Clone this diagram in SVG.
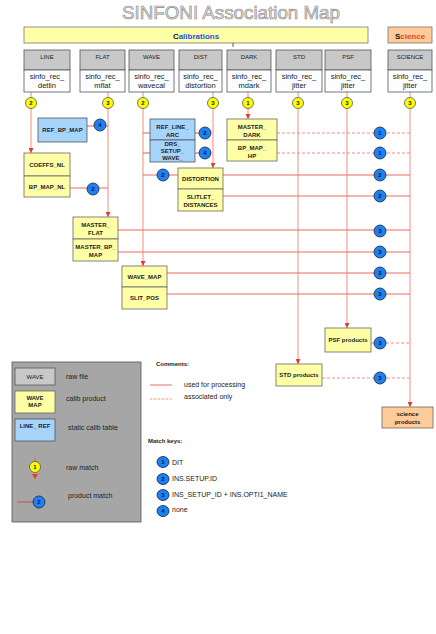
<svg xmlns="http://www.w3.org/2000/svg" width="436" height="634" viewBox="0 0 436 634">
<defs>
<style>
text{font-family:"Liberation Sans",Arial,sans-serif;}
.raw-h{fill:#c8c8c8;stroke:#555;stroke-width:0.8}
.raw-b{fill:#fbfdff;stroke:#555;stroke-width:0.8}
.prod{fill:#ffffa6;stroke:#666;stroke-width:0.8}
.stat{fill:#a6d4fa;stroke:#555;stroke-width:0.8}
.sci{fill:#ffcc99;stroke:#666;stroke-width:0.8}
.hl{font-size:6px;fill:#222;text-anchor:middle}
.rl{font-size:7.5px;fill:#222;text-anchor:middle}
.pl{font-size:6px;font-weight:bold;fill:#222;text-anchor:middle}
.lg{font-size:7px;fill:#222}
.vl{stroke:#f4a096;stroke-width:1.2;fill:none}
.hs{stroke:#ec6a5c;stroke-width:1.1;fill:none}
.hd{stroke:#f09088;stroke-width:1.1;fill:none;stroke-dasharray:3 2}
.yc{fill:#ffff00;stroke:#555;stroke-width:0.8}
.bc{fill:#1a82f4;stroke:#223;stroke-width:0.8}
.ct{font-size:6px;fill:#112;text-anchor:middle;font-weight:bold}
</style>
<marker id="ar" viewBox="0 0 10 10" refX="10" refY="5" markerWidth="5" markerHeight="5" markerUnits="userSpaceOnUse" orient="auto">
<path d="M0,0 L10,5 L0,10 z" fill="#e83a20"/>
</marker>
</defs>
<rect width="436" height="634" fill="#ffffff"/>

<text x="231" y="19" font-size="18" text-anchor="middle" fill="#e0e0e0" stroke="#8a8a8a" stroke-width="0.6" textLength="218" lengthAdjust="spacingAndGlyphs">SINFONI Association Map</text>

<g id="calibrations">
<rect x="24" y="27" width="344" height="16" fill="#ffffa6" stroke="#777" stroke-width="0.8"/>
<text x="196" y="38.5" font-size="8" font-weight="bold" text-anchor="middle"><tspan fill="#111">C</tspan><tspan fill="#1a4ff0">alibrations</tspan></text>
<line x1="233" y1="43" x2="233" y2="47" stroke="#333" stroke-width="0.8"/>
</g>
<g id="science">
<rect x="388" y="27" width="44" height="16" fill="#ffcc99" stroke="#777" stroke-width="0.8"/>
<text x="410" y="38.5" font-size="8" font-weight="bold" text-anchor="middle"><tspan fill="#111">S</tspan><tspan fill="#e8401a">cience</tspan></text>
</g>

<g id="connectors">
<line class="vl" x1="31" y1="92" x2="31" y2="153" marker-end="url(#ar)"/>
<line class="vl" x1="108" y1="92" x2="108" y2="217" marker-end="url(#ar)"/>
<line class="vl" x1="143" y1="92" x2="143" y2="266" marker-end="url(#ar)"/>
<line class="vl" x1="213" y1="92" x2="213" y2="168" marker-end="url(#ar)"/>
<line class="vl" x1="248" y1="92" x2="248" y2="119" marker-end="url(#ar)"/>
<line class="vl" x1="298" y1="92" x2="298" y2="364" marker-end="url(#ar)"/>
<line class="vl" x1="347" y1="92" x2="347" y2="328" marker-end="url(#ar)"/>
<line class="vl" x1="410" y1="92" x2="410" y2="407" marker-end="url(#ar)"/>
<line class="hs" x1="87" y1="126" x2="108" y2="126"/>
<line class="hs" x1="70" y1="188" x2="108" y2="188"/>
<line class="hs" x1="143" y1="133" x2="150" y2="133"/>
<line class="hs" x1="143" y1="153" x2="150" y2="153"/>
<line class="hs" x1="195" y1="133" x2="205" y2="133"/>
<line class="hs" x1="195" y1="153" x2="205" y2="153"/>
<line class="hs" x1="143" y1="175" x2="178" y2="175"/>
<line class="hs" x1="223" y1="175" x2="410" y2="175"/>
<line class="hs" x1="223" y1="196" x2="410" y2="196"/>
<line class="hd" x1="277" y1="133" x2="410" y2="133"/>
<line class="hd" x1="277" y1="153" x2="410" y2="153"/>
<line class="hs" x1="118" y1="230" x2="410" y2="230"/>
<line class="hs" x1="118" y1="252" x2="410" y2="252"/>
<line class="hs" x1="167" y1="273" x2="410" y2="273"/>
<line class="hs" x1="167" y1="294" x2="410" y2="294"/>
<line class="hd" x1="371" y1="343" x2="410" y2="343"/>
<line class="hd" x1="322" y1="378" x2="410" y2="378"/>
</g>

<g id="raw-line"><rect class="raw-h" x="24" y="50" width="46" height="20"/><rect class="raw-b" x="24" y="70" width="46" height="22"/><text class="hl" x="47" y="59">LINE</text><text class="rl" x="47" y="79">sinfo_rec_</text><text class="rl" x="47" y="88">detlin</text></g>
<g id="raw-flat"><rect class="raw-h" x="80" y="50" width="45" height="20"/><rect class="raw-b" x="80" y="70" width="45" height="22"/><text class="hl" x="102.5" y="59">FLAT</text><text class="rl" x="102.5" y="79">sinfo_rec_</text><text class="rl" x="102.5" y="88">mflat</text></g>
<g id="raw-wave"><rect class="raw-h" x="129" y="50" width="45" height="20"/><rect class="raw-b" x="129" y="70" width="45" height="22"/><text class="hl" x="151.5" y="59">WAVE</text><text class="rl" x="151.5" y="79">sinfo_rec_</text><text class="rl" x="151.5" y="88">wavecal</text></g>
<g id="raw-dist"><rect class="raw-h" x="179" y="50" width="43" height="20"/><rect class="raw-b" x="179" y="70" width="43" height="22"/><text class="hl" x="200.5" y="59">DIST</text><text class="rl" x="200.5" y="79">sinfo_rec_</text><text class="rl" x="200.5" y="88">distortion</text></g>
<g id="raw-dark"><rect class="raw-h" x="227" y="50" width="44" height="20"/><rect class="raw-b" x="227" y="70" width="44" height="22"/><text class="hl" x="249" y="59">DARK</text><text class="rl" x="249" y="79">sinfo_rec_</text><text class="rl" x="249" y="88">mdark</text></g>
<g id="raw-std"><rect class="raw-h" x="276" y="50" width="46" height="20"/><rect class="raw-b" x="276" y="70" width="46" height="22"/><text class="hl" x="299" y="59">STD</text><text class="rl" x="299" y="79">sinfo_rec_</text><text class="rl" x="299" y="88">jitter</text></g>
<g id="raw-psf"><rect class="raw-h" x="325" y="50" width="46" height="20"/><rect class="raw-b" x="325" y="70" width="46" height="22"/><text class="hl" x="348" y="59">PSF</text><text class="rl" x="348" y="79">sinfo_rec_</text><text class="rl" x="348" y="88">jitter</text></g>
<g id="raw-science"><rect class="raw-h" x="388" y="50" width="44" height="20"/><rect class="raw-b" x="388" y="70" width="44" height="22"/><text class="hl" x="410" y="59">SCIENCE</text><text class="rl" x="410" y="79">sinfo_rec_</text><text class="rl" x="410" y="88">jitter</text></g>

<g id="raw-matches">
<circle class="yc" cx="31" cy="103" r="5.5"/><text class="ct" x="31" y="105.2">2</text>
<circle class="yc" cx="108" cy="103" r="5.5"/><text class="ct" x="108" y="105.2">3</text>
<circle class="yc" cx="143" cy="103" r="5.5"/><text class="ct" x="143" y="105.2">2</text>
<circle class="yc" cx="213" cy="103" r="5.5"/><text class="ct" x="213" y="105.2">3</text>
<circle class="yc" cx="248" cy="103" r="5.5"/><text class="ct" x="248" y="105.2">1</text>
<circle class="yc" cx="298" cy="103" r="5.5"/><text class="ct" x="298" y="105.2">3</text>
<circle class="yc" cx="347" cy="103" r="5.5"/><text class="ct" x="347" y="105.2">3</text>
<circle class="yc" cx="410" cy="103" r="5.5"/><text class="ct" x="410" y="105.2">3</text>
</g>

<g id="ref-bp-map"><rect class="stat" x="38" y="118" width="49" height="24"/><text class="pl" x="62.5" y="132">REF_BP_MAP</text></g>
<g id="ref-line-arc"><rect class="stat" x="150" y="119" width="45" height="21"/><text class="pl" x="172.5" y="129">REF_LINE_</text><text class="pl" x="172.5" y="137">ARC</text></g>
<g id="drs-setup-wave"><rect class="stat" x="150" y="140" width="45" height="22"/><text class="pl" x="172.5" y="145.5">DRS_</text><text class="pl" x="172.5" y="152.5">SETUP_</text><text class="pl" x="172.5" y="159.5">WAVE_</text></g>
<g id="coeffs-nl"><rect class="prod" x="24" y="153" width="46" height="23"/><rect class="prod" x="24" y="176" width="46" height="21"/><text class="pl" x="47" y="167">COEFFS_NL</text><text class="pl" x="47" y="188.5">BP_MAP_NL</text></g>
<g id="master-dark"><rect class="prod" x="227" y="119" width="50" height="21"/><rect class="prod" x="227" y="140" width="50" height="21"/><text class="pl" x="252" y="128.5">MASTER_</text><text class="pl" x="252" y="136.5">DARK</text><text class="pl" x="252" y="149.5">BP_MAP_</text><text class="pl" x="252" y="157.5">HP</text></g>
<g id="distortion"><rect class="prod" x="178" y="168" width="45" height="21"/><rect class="prod" x="178" y="189" width="45" height="22"/><text class="pl" x="200.5" y="181">DISTORTION</text><text class="pl" x="200.5" y="199">SLITLET_</text><text class="pl" x="200.5" y="207">DISTANCES</text></g>
<g id="master-flat"><rect class="prod" x="73" y="217" width="45" height="22"/><rect class="prod" x="73" y="239" width="45" height="22"/><text class="pl" x="95.5" y="227">MASTER_</text><text class="pl" x="95.5" y="235">FLAT</text><text class="pl" x="95.5" y="249">MASTER_BP_</text><text class="pl" x="95.5" y="257">MAP</text></g>
<g id="wave-map"><rect class="prod" x="122" y="266" width="45" height="21"/><rect class="prod" x="122" y="287" width="45" height="22"/><text class="pl" x="144.5" y="279">WAVE_MAP</text><text class="pl" x="144.5" y="300">SLIT_POS</text></g>
<g id="psf-products"><rect class="prod" x="325" y="328" width="46" height="24"/><text class="pl" x="348" y="342">PSF products</text></g>
<g id="std-products"><rect class="prod" x="276" y="364" width="46" height="22"/><text class="pl" x="299" y="377">STD products</text></g>
<g id="science-products"><rect class="sci" x="382" y="407" width="51" height="21"/><text class="pl" x="407.5" y="415.5">science</text><text class="pl" x="407.5" y="423.5">products</text></g>

<g id="product-matches">
<circle class="bc" cx="100" cy="125" r="6"/><text class="ct" x="100" y="127.2">4</text>
<circle class="bc" cx="93" cy="189" r="6"/><text class="ct" x="93" y="191.2">2</text>
<circle class="bc" cx="205" cy="133" r="6"/><text class="ct" x="205" y="135.2">2</text>
<circle class="bc" cx="205" cy="153" r="6"/><text class="ct" x="205" y="155.2">4</text>
<circle class="bc" cx="163" cy="175" r="6"/><text class="ct" x="163" y="177.2">2</text>
<circle class="bc" cx="380" cy="133" r="6"/><text class="ct" x="380" y="135.2">1</text>
<circle class="bc" cx="380" cy="153" r="6"/><text class="ct" x="380" y="155.2">1</text>
<circle class="bc" cx="380" cy="175" r="6"/><text class="ct" x="380" y="177.2">2</text>
<circle class="bc" cx="380" cy="196" r="6"/><text class="ct" x="380" y="198.2">2</text>
<circle class="bc" cx="380" cy="231" r="6"/><text class="ct" x="380" y="233.2">3</text>
<circle class="bc" cx="380" cy="252" r="6"/><text class="ct" x="380" y="254.2">3</text>
<circle class="bc" cx="380" cy="273" r="6"/><text class="ct" x="380" y="275.2">3</text>
<circle class="bc" cx="380" cy="294" r="6"/><text class="ct" x="380" y="296.2">3</text>
<circle class="bc" cx="380" cy="343" r="6"/><text class="ct" x="380" y="345.2">3</text>
<circle class="bc" cx="380" cy="378" r="6"/><text class="ct" x="380" y="380.2">3</text>
</g>

<g id="legend">
<rect x="12" y="362" width="129" height="160" fill="#a6a6a6" stroke="#555" stroke-width="0.8"/>
<rect class="raw-h" x="15" y="368" width="40" height="17" fill="#d4d4d4"/><text class="hl" x="35" y="378.5" font-size="6.5">WAVE</text>
<text class="lg" x="66" y="379">raw file</text>
<rect class="prod" x="15" y="391" width="40" height="22"/><text class="pl" x="35" y="399.5">WAVE</text><text class="pl" x="35" y="406.5">MAP</text>
<text class="lg" x="66" y="401">calib product</text>
<rect class="stat" x="15" y="419" width="40" height="22"/><text class="pl" x="35" y="428">LINE_ REF</text>
<text class="lg" x="68" y="430">static calib table</text>
<line x1="35" y1="457" x2="35" y2="461.5" stroke="#e8604a" stroke-width="1"/>
<circle class="yc" cx="35" cy="467" r="5.5"/><text class="ct" x="35" y="469.2">1</text>
<path d="M32,474 L38,474 L35,479 z" fill="#e83a20"/>
<text class="lg" x="66" y="470">raw match</text>
<line x1="17" y1="502" x2="33" y2="502" stroke="#c84030" stroke-width="0.8"/>
<circle class="bc" cx="39" cy="502" r="6"/><text class="ct" x="39" y="504.2">2</text>
<text class="lg" x="68" y="498">product match</text>
</g>

<g id="comments">
<text x="156" y="366" font-size="6" font-weight="bold" fill="#222">Comments:</text>
<line x1="150" y1="385" x2="172" y2="385" stroke="#ec6a5c" stroke-width="1"/>
<text class="lg" x="184" y="387">used for processing</text>
<line x1="150" y1="399" x2="172" y2="399" stroke="#f09088" stroke-width="1" stroke-dasharray="2.5 1.5"/>
<text class="lg" x="184" y="399">associated only</text>
</g>

<g id="match-keys">
<text x="148" y="443" font-size="6" font-weight="bold" fill="#222">Match keys:</text>
<ellipse class="bc" cx="163" cy="462" rx="6" ry="5.5"/><text class="ct" x="163" y="464.2">1</text><text class="lg" x="172" y="465" font-size="6.5">DIT</text>
<ellipse class="bc" cx="163" cy="479" rx="6" ry="5.5"/><text class="ct" x="163" y="481.2">2</text><text class="lg" x="172" y="481" font-size="6.5">INS.SETUP.ID</text>
<ellipse class="bc" cx="163" cy="495" rx="6" ry="5.5"/><text class="ct" x="163" y="497.2">3</text><text class="lg" x="172" y="497" font-size="6.5">INS_SETUP_ID + INS.OPTI1_NAME</text>
<ellipse class="bc" cx="163" cy="511" rx="6" ry="5.5"/><text class="ct" x="163" y="513.2">4</text><text class="lg" x="172" y="512" font-size="6.5">none</text>
</g>
</svg>
